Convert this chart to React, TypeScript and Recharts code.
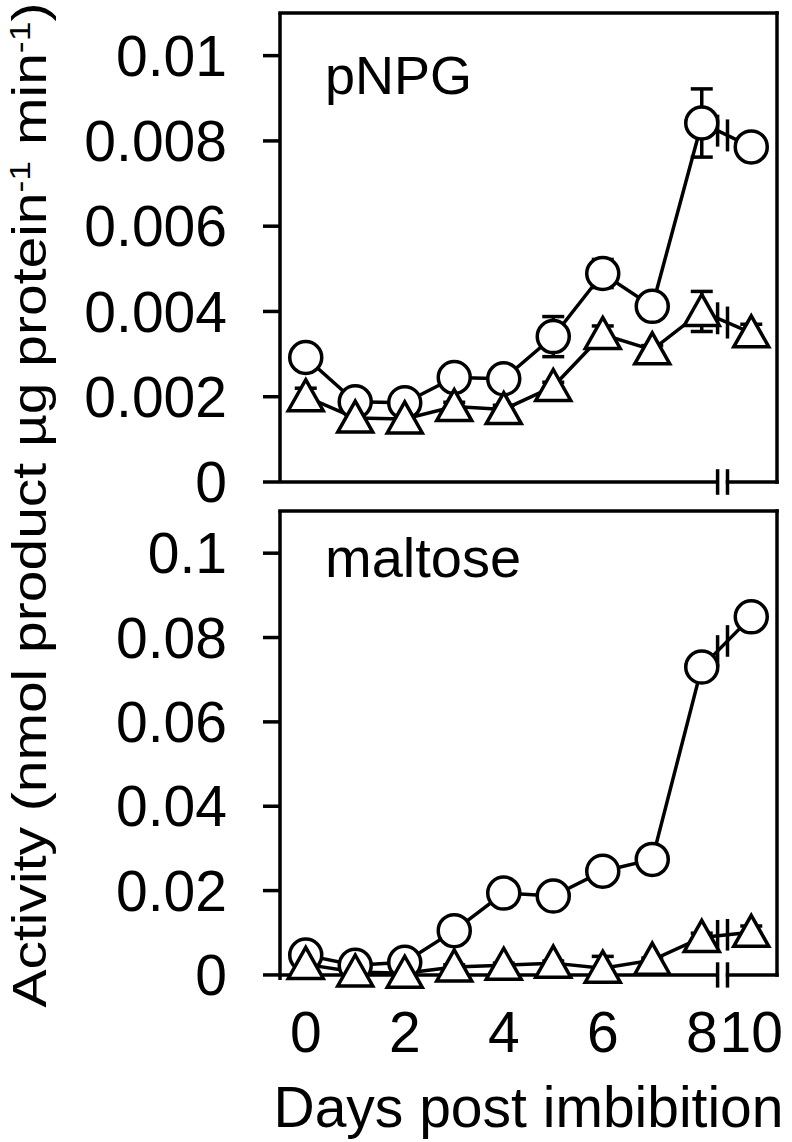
import { LineChart, Line, XAxis, YAxis, ErrorBar, ReferenceLine, Label } from 'recharts';

const FONT = '"Liberation Sans", Arial, sans-serif';

// days on the axis; day 10 is drawn one step after day 8, past the axis break
const days = [0, 1, 2, 3, 4, 5, 6, 7, 8, 10];
const axisPos = [0, 1, 2, 3, 4, 5, 6, 7, 8, 9];

// pNPG panel (circles / triangles)
const pnpgCircle = [0.00292, 0.00188, 0.00186, 0.00245, 0.00242, 0.00341, 0.00489, 0.00412, 0.00842, 0.00786];
const pnpgCircleErr = [0.0001, 0.0001, 0.0001, 0.0001, 0.0001, 0.00047, 0.00033, 0.0001, 0.0008, 0.0001];
const pnpgTri = [0.002, 0.0015, 0.00148, 0.00177, 0.0017, 0.00224, 0.00346, 0.0031, 0.004, 0.0035];
const pnpgTriErr = [0.0002, 0.0001, 0.0001, 0.0001, 0.0001, 0.0001, 0.0002, 0.0001, 0.00047, 0.0002];

// maltose panel
const maltoseCircle = [0.0047, 0.0023, 0.003, 0.0105, 0.0194, 0.0187, 0.0246, 0.0274, 0.073, 0.0849];
const maltoseCircleErr = [0.0005, 0.0005, 0.0005, 0.0005, 0.0005, 0.0005, 0.0005, 0.0005, 0.001, 0.001];
const maltoseTri = [0.0025, 0.0007, 0.0004, 0.0019, 0.0023, 0.0028, 0.0016, 0.0035, 0.0089, 0.0101];
const maltoseTriErr = [0.0005, 0.0005, 0.0005, 0.0005, 0.0005, 0.0005, 0.0028, 0.0005, 0.001, 0.0015];

const xTicks = [0, 2, 4, 6, 8, 9];
const xTickLabels = ['0', '2', '4', '6', '8', '10'];
const pnpgTicks = [0, 0.002, 0.004, 0.006, 0.008, 0.01];
const maltoseTicks = [0, 0.02, 0.04, 0.06, 0.08, 0.1];

const X_DOMAIN: [number, number] = [-0.52, 9.52];
const BREAK_L = 8.32;
const BREAK_R = 8.52;
const SW = 3.5;

const buildRows = (c: number[], cErr: number[], t: number[], tErr: number[]) =>
  days.map((d, i) => ({ day: d, pos: axisPos[i], c: c[i], cErr: cErr[i], t: t[i], tErr: tErr[i] }));

const TriangleDot = (props: any) => {
  const { cx, cy, index } = props;
  if (cx == null || cy == null) return null;
  return (
    <path
      key={`tri-${index}`}
      d={`M${cx},${cy - 17} L${cx + 17.5},${cy + 14} L${cx - 17.5},${cy + 14} Z`}
      fill="#fff"
      stroke="#000"
      strokeWidth={SW}
      strokeLinejoin="miter"
    />
  );
};

interface PanelProps {
  rows: ReturnType<typeof buildRows>;
  yMax: number;
  ticks: number[];
  height: number;
  margin: { top: number; right: number; bottom: number; left: number };
  showX: boolean;
  breakHalf: number;
}

// y value on the 8 -> 10 segment where the break marks sit
const atBreak = (vals: number[], x: number) => vals[8] + (vals[9] - vals[8]) * (x - 8);

function Panel({ rows, yMax, ticks, height, margin, showX, breakHalf }: PanelProps) {
  const [x0, x1] = X_DOMAIN;
  const line = { stroke: '#000', strokeWidth: SW, ifOverflow: 'visible' as const };
  const cVals = rows.map((r) => r.c);
  const tVals = rows.map((r) => r.t);
  return (
    <LineChart width={792} height={height} data={rows} margin={margin}>
      <XAxis
        dataKey="pos"
        type="number"
        domain={X_DOMAIN}
        ticks={xTicks}
        interval={0}
        axisLine={false}
        tickLine={false}
        tickSize={0}
        tickMargin={32}
        height={showX ? 162 : 1}
        tickFormatter={(v: number) => (showX ? xTickLabels[xTicks.indexOf(v)] : '')}
        tick={{ fill: '#000', fontSize: 57, fontFamily: FONT }}
      >
        {showX && (
          <Label
            value="Days post imbibition"
            position="insideBottom"
            offset={15}
            style={{ fill: '#000', fontSize: 57, fontFamily: FONT }}
          />
        )}
      </XAxis>
      <YAxis
        type="number"
        domain={[0, yMax]}
        ticks={ticks}
        interval={0}
        width={280}
        axisLine={{ stroke: '#000', strokeWidth: SW }}
        tickLine={{ stroke: '#000', strokeWidth: SW }}
        tickSize={17}
        tickMargin={36}
        tick={{ fill: '#000', fontSize: 57, fontFamily: FONT }}
      />

      {/* frame, bottom edge split by the axis break */}
      <ReferenceLine segment={[{ x: x0, y: yMax }, { x: x1, y: yMax }]} {...line} strokeLinecap="square" />
      <ReferenceLine segment={[{ x: x1, y: 0 }, { x: x1, y: yMax }]} {...line} strokeLinecap="square" />
      <ReferenceLine segment={[{ x: x0, y: 0 }, { x: BREAK_L, y: 0 }]} {...line} strokeLinecap="butt" />
      <ReferenceLine segment={[{ x: BREAK_R, y: 0 }, { x: x1, y: 0 }]} {...line} strokeLinecap="square" />
      <ReferenceLine segment={[{ x: BREAK_L, y: -breakHalf }, { x: BREAK_L, y: breakHalf }]} {...line} />
      <ReferenceLine segment={[{ x: BREAK_R, y: -breakHalf }, { x: BREAK_R, y: breakHalf }]} {...line} />

      <Line
        dataKey="c"
        stroke="#000"
        strokeWidth={SW}
        dot={{ r: 16, fill: '#fff', stroke: '#000', strokeWidth: SW }}
        activeDot={false}
        isAnimationActive={false}
      >
        <ErrorBar dataKey="cErr" width={11} stroke="#000" strokeWidth={SW} direction="y" />
      </Line>
      <Line
        dataKey="t"
        stroke="#000"
        strokeWidth={SW}
        dot={TriangleDot}
        activeDot={false}
        isAnimationActive={false}
      >
        <ErrorBar dataKey="tErr" width={11} stroke="#000" strokeWidth={SW} direction="y" />
      </Line>

      {/* break marks across the 8 -> 10 segments */}
      {[cVals, tVals].map((vals, k) =>
        [BREAK_L, BREAK_R].map((bx) => (
          <ReferenceLine
            key={`brk-${k}-${bx}`}
            segment={[
              { x: bx, y: atBreak(vals, bx) - breakHalf * 1.25 },
              { x: bx, y: atBreak(vals, bx) + breakHalf * 1.25 },
            ]}
            {...line}
          />
        ))
      )}
    </LineChart>
  );
}

const pnpgRows = buildRows(pnpgCircle, pnpgCircleErr, pnpgTri, pnpgTriErr);
const maltoseRows = buildRows(maltoseCircle, maltoseCircleErr, maltoseTri, maltoseTriErr);

export default function App() {
  return (
    <div style={{ position: 'absolute', left: 0, top: 0, width: 792, height: 1142, background: '#fff', fontFamily: FONT }}>
      <div style={{ position: 'absolute', left: 0, top: 0 }}>
        <Panel
          rows={pnpgRows}
          yMax={0.011}
          ticks={pnpgTicks}
          height={515}
          margin={{ top: 13, right: 15, bottom: 32, left: 0 }}
          showX={false}
          breakHalf={0.0003}
        />
      </div>
      <div style={{ position: 'absolute', left: 0, top: 500 }}>
        <Panel
          rows={maltoseRows}
          yMax={0.11}
          ticks={maltoseTicks}
          height={642}
          margin={{ top: 11, right: 15, bottom: 0, left: 0 }}
          showX={true}
          breakHalf={0.003}
        />
      </div>
      <svg
        width={792}
        height={1142}
        style={{ position: 'absolute', left: 0, top: 0, pointerEvents: 'none' }}
      >
        <text x={325} y={94} fontSize={54} fontFamily={FONT} fill="#000">pNPG</text>
        <text x={325} y={577} fontSize={56} fontFamily={FONT} fill="#000">maltose</text>
        <text
          x={46}
          y={505}
          transform="rotate(-90, 46, 505)"
          textAnchor="middle"
          fontSize={48}
          fontFamily={FONT}
          fill="#000"
          textLength={1005}
          lengthAdjust="spacingAndGlyphs"
        >
          Activity (nmol product µg protein
          <tspan dy={-16} fontSize={30}>-1</tspan>
          <tspan dy={16}> min</tspan>
          <tspan dy={-16} fontSize={30}>-1</tspan>
          <tspan dy={16}>)</tspan>
        </text>
      </svg>
    </div>
  );
}
